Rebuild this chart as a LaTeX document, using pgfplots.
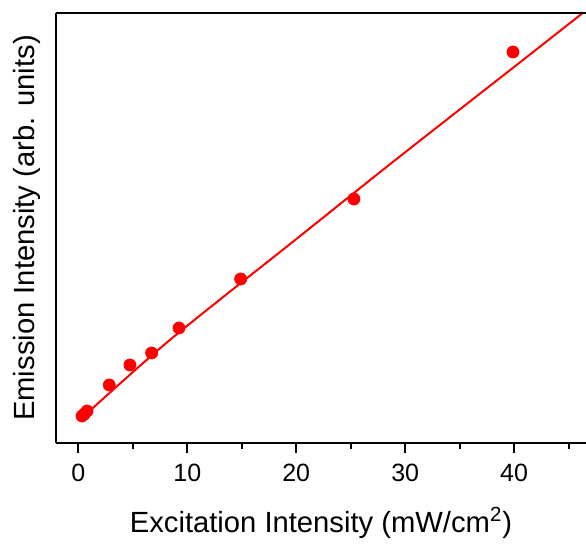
\documentclass[border=0pt]{standalone}
\usepackage{fontspec}
\setmainfont{Liberation Sans}
\usepackage{pgfplots}
\pgfplotsset{compat=1.18}

\begin{document}
\begin{tikzpicture}
\begin{axis}[
    scale only axis,
    width=265pt, height=215pt,
    xmin=-2.05, xmax=46.6,
    ymin=0, ymax=430,
    axis lines=left,
    axis line style={-, line width=1pt},
    xtick={0,10,20,30,40},
    minor xtick={5,15,25,35,45},
    ytick=\empty,
    tick align=outside,
    tick style={black, line width=1pt},
    major tick length=5pt,
    minor tick length=3pt,
    xticklabel style={font=\fontsize{12.5}{15}\selectfont, yshift=-2pt},
    /pgf/number format/assume math mode=true,
    xlabel={Excitation Intensity (mW/cm\textsuperscript{2})},
    ylabel={Emission Intensity (arb. units)},
    label style={font=\fontsize{14.6}{17}\selectfont},
    xlabel style={yshift=-6pt},
    ylabel style={yshift=-1pt},
    clip=false,
    extra description/.code={
        \draw[line width=1pt] (axis description cs:0,1) -- (axis description cs:1,1);
    },
]
% fitted curve
\addplot[red, line width=1pt, smooth] coordinates {
    (0.43,26) (8.4,103) (19.9,203) (29.1,283) (41.4,388) (46.3,430)
};
% measured points
\addplot[only marks, mark=*, mark size=3pt, red, mark options={draw=red, fill=red}] coordinates {
    (0.34,27) (0.55,29) (0.8,32) (2.84,58) (4.74,78) (6.73,90)
    (9.24,115) (14.9,164) (25.3,244) (39.9,391)
};
\end{axis}
\pgfresetboundingbox
\path ([xshift=-28pt,yshift=-50.5pt]current axis.south west) rectangle ([yshift=6.5pt]current axis.north east);
\end{tikzpicture}
\end{document}
